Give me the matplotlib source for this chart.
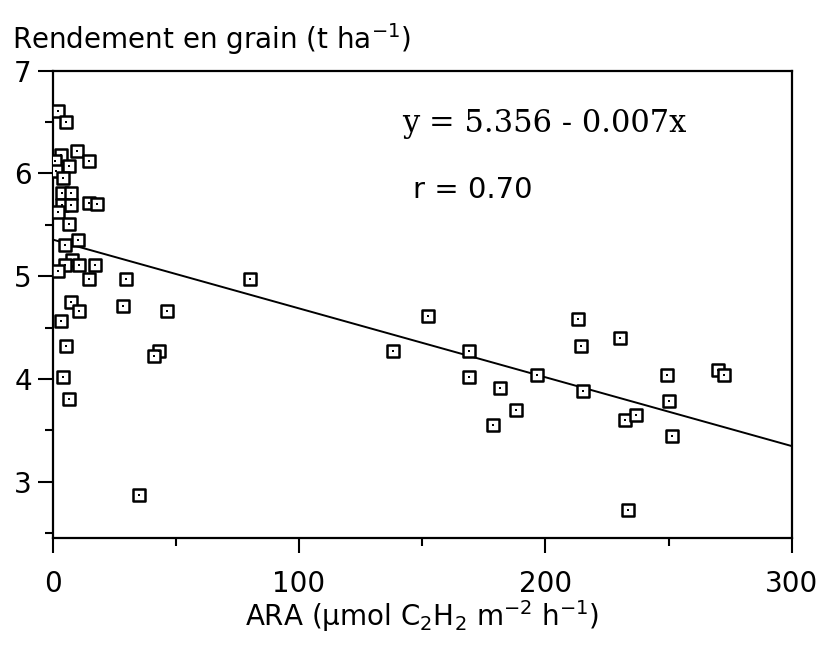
import matplotlib
matplotlib.use("Agg")
import matplotlib.pyplot as plt
from matplotlib.ticker import MultipleLocator

# ARA (umol C2H2 m-2 h-1) and grain yield (t/ha)
ara = [
    2.3, 5.4, 9.7, 3.2, 14.9, 6.6, 0.8, 1.2, 4.3, 3.7, 7.3, 3.7, 7.3, 14.9,
    18.1, 2.3, 6.6, 10.4, 5.0, 7.7, 5.0, 10.7, 17.2, 2.3, 14.9, 29.8, 80.2,
    7.4, 10.7, 28.7, 46.3, 3.2, 5.4, 43.3, 41.3, 4.1, 6.5, 34.9,
    152.2, 138.3, 169.0, 169.0, 181.6, 188.0, 178.6, 196.5, 213.4, 214.4,
    215.4, 230.3, 232.4, 236.8, 233.7, 249.3, 250.3, 251.3, 270.2, 272.5,
]
yield_t = [
    6.61, 6.50, 6.22, 6.18, 6.12, 6.07, 6.12, 6.02, 5.96, 5.81, 5.81, 5.69,
    5.69, 5.71, 5.70, 5.62, 5.51, 5.35, 5.30, 5.16, 5.11, 5.11, 5.11, 5.05,
    4.97, 4.97, 4.97, 4.75, 4.66, 4.71, 4.66, 4.56, 4.32, 4.27, 4.22, 4.02,
    3.80, 2.87,
    4.61, 4.27, 4.27, 4.02, 3.91, 3.70, 3.55, 4.04, 4.58, 4.32, 3.88, 4.40,
    3.60, 3.65, 2.72, 4.04, 3.78, 3.44, 4.09, 4.04,
]

# fitted line as drawn in the figure
intercept = 5.356
slope = -0.0067
line_x = [0, 300]
line_y = [intercept + slope * x for x in line_x]

FONT = "DejaVu Sans"

fig = plt.figure(figsize=(8.23, 6.46), dpi=100)
ax = fig.add_axes([0.064, 0.167, 0.898, 0.7236])

ax.plot(line_x, line_y, color="black", linewidth=1.4, zorder=2)
ax.scatter(ara, yield_t, marker="s", s=80, facecolor="white",
           edgecolor="black", linewidth=1.8, zorder=3)
ax.scatter(ara, yield_t, marker="s", s=4, color="black", linewidth=0, zorder=4)

ax.set_xlim(0, 300)
ax.set_ylim(2.45, 7)
ax.xaxis.set_major_locator(MultipleLocator(100))
ax.xaxis.set_minor_locator(MultipleLocator(50))
ax.yaxis.set_major_locator(MultipleLocator(1))
ax.yaxis.set_minor_locator(MultipleLocator(0.5))
ax.tick_params(which="major", direction="out", length=11, width=1.5,
               labelsize=20, pad=12)
ax.tick_params(which="minor", direction="out", length=6, width=1.5)
ax.tick_params(axis="y", which="major", pad=4)
for lab in ax.get_xticklabels() + ax.get_yticklabels():
    lab.set_fontfamily(FONT)
for sp in ax.spines.values():
    sp.set_linewidth(1.6)

ax.set_xlabel("ARA (µmol C$_2$H$_2$ m$^{-2}$ h$^{-1}$)", fontsize=20,
              fontfamily=FONT, labelpad=0)
fig.text(0.014, 0.94, "Rendement en grain (t ha$^{-1}$)", fontsize=20,
         fontfamily=FONT, ha="left", va="center")

ax.text(141.8, 6.49, "y = 5.356 - 0.007x", fontsize=22, fontfamily="DejaVu Serif",
        ha="left", va="center")
ax.text(146.3, 5.84, "r = 0.70", fontsize=21, fontfamily=FONT,
        ha="left", va="center")

fig.savefig("out.png", dpi=100, facecolor="white")
